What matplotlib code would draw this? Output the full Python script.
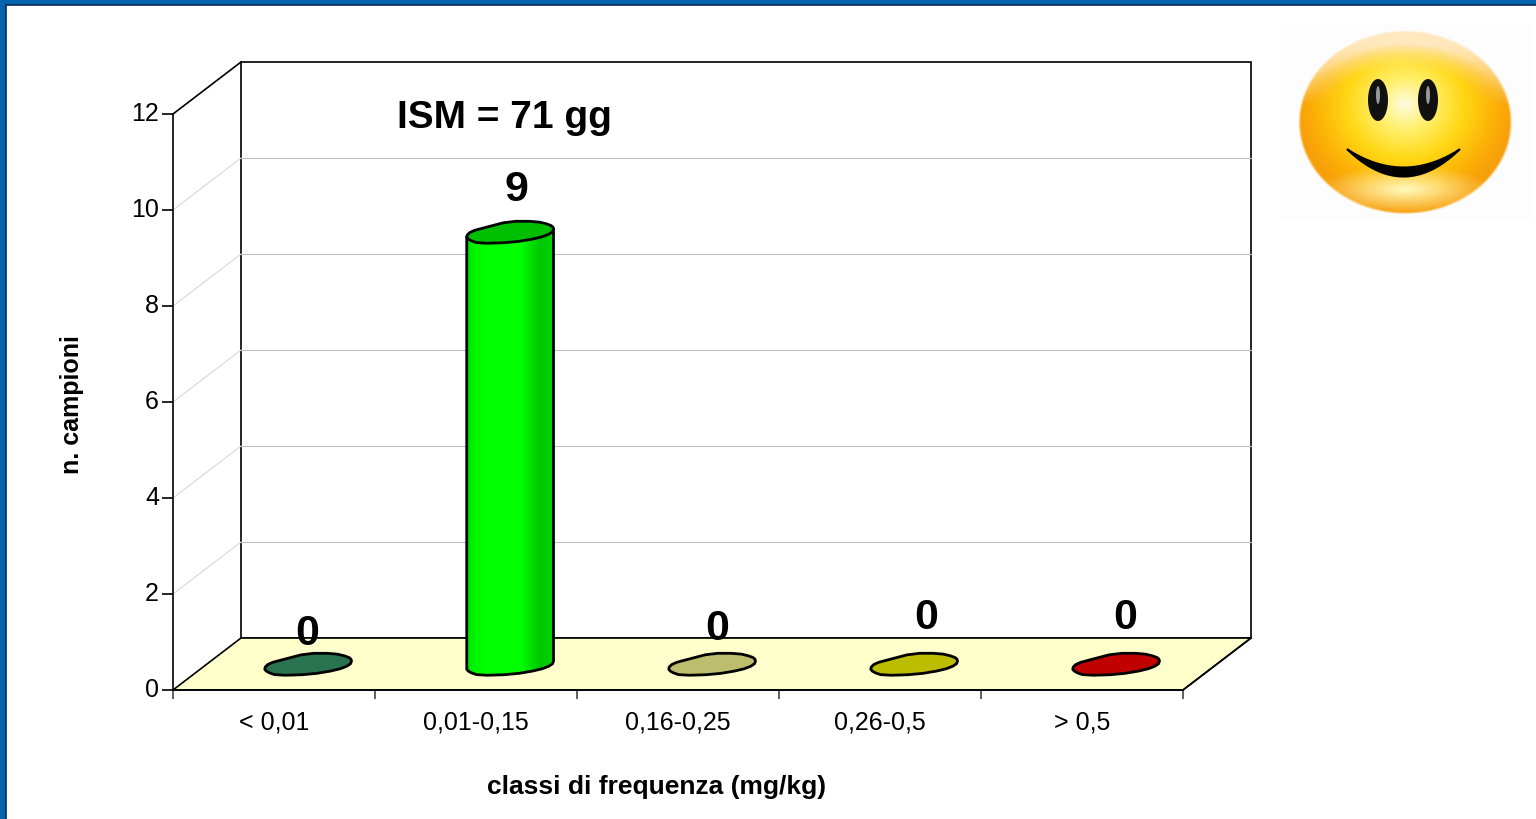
import numpy as np
import matplotlib
matplotlib.use("Agg")
import matplotlib.pyplot as plt
from matplotlib.patches import Polygon, Rectangle, Ellipse
from matplotlib.path import Path
from matplotlib.colors import LinearSegmentedColormap
from matplotlib.transforms import ScaledTranslation

plt.rcParams['font.family'] = ['Liberation Sans', 'DejaVu Sans']

categories = ["< 0,01", "0,01-0,15", "0,16-0,25", "0,26-0,5", "> 0,5"]
counts = [0, 9, 0, 0, 0]
bar_colors = ["#2A7350", "#00BE00", "#BDBD6E", "#BDBD00", "#C00000"]
y_ticks = [0, 2, 4, 6, 8, 10, 12]
annotation = "ISM = 71 gg"
x_title = "classi di frequenza (mg/kg)"
y_title = "n. campioni"

W, H = 1536, 820
fig = plt.figure(figsize=(W / 100, H / 100), dpi=100, facecolor="white")

# frame
for rect, c in [((0, H - 6, W, 6), "#0563AE"), ((0, 0, 6, H), "#0563AE")]:
    fig.add_artist(Rectangle((rect[0] / W, rect[1] / H), rect[2] / W, rect[3] / H,
                             transform=fig.transFigure, fc=c, ec="none"))
fig.add_artist(plt.Line2D([6 / W, 1], [1 - 6 / H, 1 - 6 / H], color="#0A2A55", lw=1.2))
fig.add_artist(plt.Line2D([6 / W, 6 / W], [0, 1 - 6 / H], color="#0A2A55", lw=1.2))

L, R, T, B = 173, 1183, 115, 691
ax = fig.add_axes([L / W, 1 - B / H, (R - L) / W, (B - T) / H])
ax.set_xlim(0, len(categories))
ax.set_ylim(0, 12)
ax.patch.set_visible(False)
sx = len(categories) / (R - L)
sy = 12 / (B - T)
dx, dy = 68 * sx, 52 * sy

for s in ("top", "right"):
    ax.spines[s].set_visible(False)
for s in ("left", "bottom"):
    ax.spines[s].set_linewidth(1.2)

# depth walls
n = len(categories)
ax.add_patch(Polygon([(0, 0), (n, 0), (n + dx, dy), (dx, dy)], closed=True,
                     fc="#FFFFCC", ec="black", lw=1.2, clip_on=False, zorder=1))
ax.add_patch(Rectangle((dx, dy), n, 12, fc="white", ec="black", lw=1.2, clip_on=False, zorder=0.5))
for v in y_ticks[1:-1]:
    ax.plot([dx, n + dx], [v + dy, v + dy], color="#C0C0C0", lw=0.8, clip_on=False, zorder=0.8)
    ax.plot([0, dx], [v, v + dy], color="#D8D8D8", lw=0.8, clip_on=False, zorder=0.8)
ax.plot([0, dx], [12, 12 + dy], color="black", lw=1.2, clip_on=False, zorder=2)
ax.plot([n, n + dx], [0, dy], color="black", lw=1.2, clip_on=False, zorder=2)

# cylinders
outline = np.array([(-44, 4.3), (-39, -0.7), (-24, -4.7), (-1, -10.7), (26, -10.7), (40, -7.3),
                    (44, -4), (42, 1), (29, 6), (2, 10.5), (-31, 11.5), (-41, 8)], dtype=float)


def smooth(pts, rounds=1):
    for _ in range(rounds):
        nxt = np.roll(pts, -1, axis=0)
        pts = np.column_stack([0.75 * pts + 0.25 * nxt, 0.25 * pts + 0.75 * nxt]).reshape(-1, 2)
    return pts


blob = smooth(outline)
blob = np.column_stack([blob[:, 0] * sx, -blob[:, 1] * sy])
ileft, iright = int(np.argmin(blob[:, 0])), int(np.argmax(blob[:, 0]))
cyl = LinearSegmentedColormap.from_list(
    "cyl", [(0, "#00D800"), (.06, "#00F000"), (.2, "#00FF00"), (.62, "#00FF00"), (.72, "#00E400"),
            (.85, "#00C800"), (1, "#00D400")])
for i, (v, col) in enumerate(zip(counts, bar_colors)):
    cx = i + 0.5 + dx / 2
    base = dy / 2
    if v > 0:
        idx = np.arange(iright, iright + ((ileft - iright) % len(blob)) + 1) % len(blob)
        lower = blob[idx] + [cx, base]
        poly = np.vstack([lower, blob[ileft] + [cx, base + v], blob[iright] + [cx, base + v]])
        ax.add_patch(Polygon(poly, closed=True, fc="none", ec="black", lw=2, clip_on=False, zorder=4))
        im = ax.imshow(np.linspace(0, 1, 200)[None, :], cmap=cyl, aspect="auto", zorder=3,
                       extent=[cx - 44 * sx, cx + 44 * sx, base - 13 * sy, base + v + 6 * sy])
        im.set_clip_path(Path(poly), ax.transData)
    ax.add_patch(Polygon(blob + [cx, base + v], closed=True, fc=col, ec="black", lw=2,
                         clip_on=False, zorder=5, joinstyle="round"))
ax.set_xlim(0, n)
ax.set_ylim(0, 12)

# value labels
label_px = [(307, 634), (516, 190), (717, 629), (926, 618), (1125, 618)]
for (px, py), v in zip(label_px, counts):
    ax.text((px - L) * sx, (B - py) * sy, str(v), ha="center", va="center", fontsize=31,
            fontweight="bold", color="black", zorder=6)

ax.set_yticks(y_ticks)
ax.tick_params(axis="y", length=8, width=1.2, labelsize=18, pad=2)
shift = ScaledTranslation(0, 3.5 / 100, fig.dpi_scale_trans)
for lab in ax.get_yticklabels():
    lab.set_transform(lab.get_transform() + shift)
ax.set_xticks(range(n + 1))
ax.set_xticklabels([])
ax.set_xticks([i + 0.5 for i in range(n)], categories, minor=True)
ax.tick_params(axis="x", which="major", length=6.5, width=1.2, color="#444444")
ax.tick_params(axis="x", which="minor", length=0, labelsize=18, pad=14)


def fx(p): return p / W
def fy(p): return 1 - p / H


fig.text(fx(504), fy(118), annotation, ha="center", va="center", fontsize=28, fontweight="bold")
fig.text(fx(657), fy(787), x_title, ha="center", va="center", fontsize=19, fontweight="bold")
fig.text(fx(72), fy(405), y_title, ha="center", va="center", rotation=90, fontsize=18, fontweight="bold")

# smiley
sm = fig.add_axes([1280 / W, 1 - 222 / H, 250 / W, 197 / H])
sm.axis("off")
xx, yy = np.meshgrid(np.arange(1280, 1530, 0.5), np.arange(25, 222, 0.5))
u = (xx - 1405) / 107
v = (yy - 123) / 92
r = np.hypot(u, v)
stops = np.array([0, .25, .55, .85, 1.0])
cols = np.array([[255, 252, 225], [255, 240, 110], [255, 215, 20], [252, 175, 5], [248, 160, 10]]) / 255
r2 = np.hypot((xx - 1405) / 107, (yy - 105) / 100)
img = np.dstack([np.interp(np.clip(r2, 0, 1), stops, cols[:, k]) for k in range(3)])
# top sheen above an inner arc
inner = np.hypot((xx - 1405) / 88, (yy - 135) / 68)
sheen = np.clip((inner - 1) * 3, 0, 1) * np.clip((105 - yy) / 60, 0, 1) ** 0.7
for k, c in enumerate([255, 232, 190]):
    img[:, :, k] = img[:, :, k] * (1 - sheen) + c / 255 * sheen
# lower glow
glow = np.clip(1 - np.hypot((xx - 1405) / 85, (yy - 190) / 24), 0, 1) ** 1.0
for k, c in enumerate([255, 250, 190]):
    img[:, :, k] = img[:, :, k] * (1 - glow) + c / 255 * glow
alpha = np.clip((1 - r) * 40, 0, 1)
sm.add_patch(Rectangle((1280, 25), 250, 197, fc="#FDFDFD", ec="none"))
sm.imshow(np.dstack([img, alpha]), extent=[1280, 1530, 222, 25], aspect="auto", zorder=2, interpolation="bilinear")
for ex in (1378, 1428):
    sm.add_patch(Ellipse((ex, 101), 20, 42, fc="#111111", ec="none", zorder=3))
    sm.add_patch(Ellipse((ex, 96), 4, 18, fc="#999999", ec="none", zorder=4))
t = np.linspace(0, 1, 60)
smile_x = 1347 + t * 112
upper = 150 + 4 * 18.0 * t * (1 - t)
lower = 150 + 4 * 27.0 * t * (1 - t)
sm.fill_between(smile_x, upper, lower, color="black", zorder=3, lw=1.5)
sm.set_xlim(1280, 1530)
sm.set_ylim(222, 25)

fig.savefig("out.png", dpi=100)
